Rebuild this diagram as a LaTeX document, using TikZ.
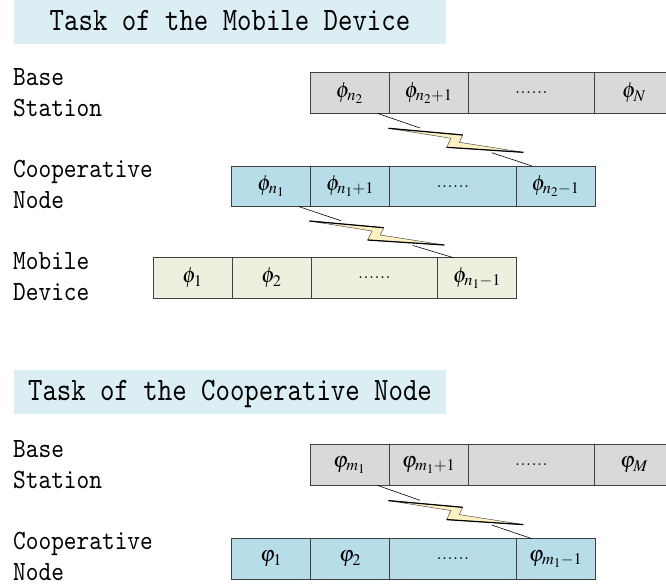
\documentclass[tikz,border=0pt]{standalone}
\usepackage{mathptmx}
\usepackage[no-math]{fontspec}
\newfontfamily\monofont{lmmono10-regular.otf}[FakeStretch=0.87]
\newfontfamily\taskfont{lmmono10-regular.otf}[FakeStretch=0.84]
\usetikzlibrary{positioning}

\definecolor{taskbg}{HTML}{DAEEF3}
\definecolor{bsgray}{HTML}{D9D9D9}
\definecolor{cnblue}{HTML}{B7DDE8}
\definecolor{mdgreen}{HTML}{EBF1DE}
\definecolor{boltyellow}{HTML}{FFF2C2}

\tikzset{
  cell/.style={draw=black!75, line width=0.9pt, minimum width=79pt, minimum height=40.6pt,
    inner sep=0pt, outer sep=0pt, font=\fontsize{22}{26}\selectfont},
  widecell/.style={cell, minimum width=126.5pt},
  taskbox/.style={fill=taskbg, minimum width=432pt, minimum height=44pt, inner sep=0pt,
    text height=17.4pt, text depth=0pt, font=\taskfont\fontsize{32.7}{36}\selectfont},
  rowlabel/.style={align=left, inner sep=0pt, font=\monofont\fontsize{27.8}{31}\selectfont},
  bolt/.style={fill=boltyellow, draw=black!70, line width=0.5pt, line join=miter},
  boltedge/.style={draw=black, line width=1.2pt},
  feed/.style={draw=black, line width=0.6pt}
}

\newcommand{\spark}[1]{%
  \draw[bolt] (#1) -- ++(74.4,6.7) -- ++(-3.4,7.3) -- ++(64,10) -- ++(-76.6,-5) -- ++(4.3,-9) -- cycle;
  \draw[boltedge] (#1) -- ++(74.4,6.7) ++(-3.4,7.3) ++(64,10) -- ++(-76.6,-5);}

\begin{document}
\begin{tikzpicture}[x=1pt, y=-1pt]
\useasboundingbox (0,0) rectangle (666,586);

% task of the mobile device
\node[taskbox] (task1) at (230,22) {Task of the Mobile Device};
\node[rowlabel, anchor=base west] (lab1) at (13,116) {Base\\Station};
\node[rowlabel, anchor=base west] (lab2) at (13,208.5) {Cooperative\\Node};
\node[rowlabel, anchor=base west] (lab3) at (13,300) {Mobile\\Device};

\node[cell, fill=bsgray, anchor=west] (bs1) at (310,93) {$\phi_{n_2}$};
\node[cell, fill=bsgray, right=0pt of bs1] (bs2) {$\phi_{n_2+1}$};
\node[widecell, fill=bsgray, right=0pt of bs2] (bs3) {......};
\node[cell, fill=bsgray, right=0pt of bs3] (bs4) {$\phi_N$};

\node[cell, fill=cnblue, anchor=west] (cn1) at (231.5,186.3) {$\phi_{n_1}$};
\node[cell, fill=cnblue, right=0pt of cn1] (cn2) {$\phi_{n_1+1}$};
\node[widecell, fill=cnblue, right=0pt of cn2] (cn3) {......};
\node[cell, fill=cnblue, right=0pt of cn3] (cn4) {$\phi_{n_2-1}$};

\node[cell, fill=mdgreen, anchor=west] (md1) at (153,278) {$\phi_1$};
\node[cell, fill=mdgreen, right=0pt of md1] (md2) {$\phi_2$};
\node[widecell, fill=mdgreen, right=0pt of md2] (md3) {......};
\node[cell, fill=mdgreen, right=0pt of md3] (md4) {$\phi_{n_1-1}$};

\coordinate (k1) at (388.3,128.3);
\coordinate (k1a) at (420,128);
\coordinate (k1b) at (491.7,152.7);
\spark{k1}
\draw[feed] ([xshift=-11.7pt]bs1.south east) -- (k1a);
\draw[feed] (k1b) -- ([xshift=16pt]cn4.north west);

\coordinate (k2) at (309.3,221);
\coordinate (k2a) at (341,220.7);
\coordinate (k2b) at (412.7,245.4);
\spark{k2}
\draw[feed] ([xshift=-11.7pt]cn1.south east) -- (k2a);
\draw[feed] (k2b) -- ([xshift=16pt]md4.north west);

% task of the cooperative node
\node[taskbox] (task2) at (230,392) {Task of the Cooperative Node};
\node[rowlabel, anchor=base west] (lab4) at (13,488) {Base\\Station};
\node[rowlabel, anchor=base west] (lab5) at (13,580) {Cooperative\\Node};

\node[cell, fill=bsgray, anchor=west] (cb1) at (310,465) {$\varphi_{m_1}$};
\node[cell, fill=bsgray, right=0pt of cb1] (cb2) {$\varphi_{m_1+1}$};
\node[widecell, fill=bsgray, right=0pt of cb2] (cb3) {......};
\node[cell, fill=bsgray, right=0pt of cb3] (cb4) {$\varphi_M$};

\node[cell, fill=cnblue, anchor=west] (cc1) at (231.5,559) {$\varphi_1$};
\node[cell, fill=cnblue, right=0pt of cc1] (cc2) {$\varphi_2$};
\node[widecell, fill=cnblue, right=0pt of cc2] (cc3) {......};
\node[cell, fill=cnblue, right=0pt of cc3] (cc4) {$\varphi_{m_1-1}$};

\coordinate (k3) at (388.3,500.6);
\coordinate (k3a) at (420,500.3);
\coordinate (k3b) at (491.7,525);
\spark{k3}
\draw[feed] ([xshift=-11.7pt]cb1.south east) -- (k3a);
\draw[feed] (k3b) -- ([xshift=16pt]cc4.north west);
\end{tikzpicture}
\end{document}
